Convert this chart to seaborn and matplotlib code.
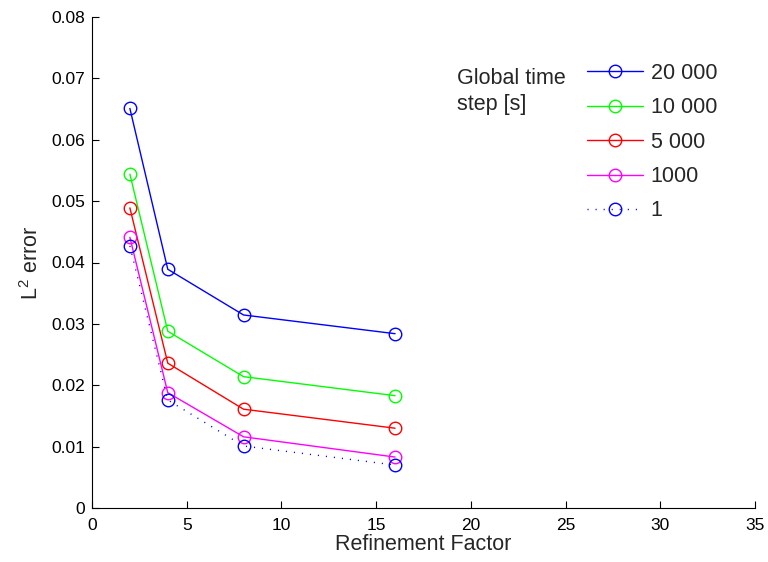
import matplotlib
matplotlib.use("Agg")
import matplotlib.pyplot as plt
import seaborn as sns
import pandas as pd

refinement = [2, 4, 8, 16]
labels = ["20 000", "10 000", "5 000", "1000", "1"]
err_20000 = [0.0651, 0.0389, 0.03145, 0.0284]
err_10000 = [0.0544, 0.0288, 0.0214, 0.0183]
err_5000 = [0.0489, 0.0236, 0.0161, 0.0130]
err_1000 = [0.0441, 0.0188, 0.0116, 0.0083]
err_1 = [0.0427, 0.0176, 0.0101, 0.0070]
series = [err_20000, err_10000, err_5000, err_1000, err_1]
colors = ["#0000ff", "#00ff00", "#ff0000", "#ff00ff", "#0000ff"]
styles = ["-", "-", "-", "-", (0, (0.8, 5))]

sns.set_style("white")
plt.rcParams["font.family"] = ["Liberation Sans", "DejaVu Sans"]
plt.rcParams["mathtext.default"] = "regular"

fig = plt.figure(figsize=(7.68, 5.62), dpi=100)
ax = fig.add_axes([92 / 768, 54 / 562, 663 / 768, 491 / 562])

for lab, vals, c, ls in zip(labels, series, colors, styles):
    df = pd.DataFrame({"factor": refinement, "error": vals})
    sns.lineplot(data=df, x="factor", y="error", ax=ax, color=c, linestyle=ls,
                 linewidth=1.0, marker="o", markersize=9, markerfacecolor="none",
                 markeredgecolor=c, markeredgewidth=1.0, label=lab, errorbar=None)

ax.set_xlim(0, 35)
ax.set_ylim(0, 0.08)
ax.set_xticks(range(0, 36, 5))
yt = [i / 100 for i in range(9)]
ax.set_yticks(yt)
ax.set_yticklabels(["0"] + [f"{v:.2f}" for v in yt[1:]])
ax.tick_params(direction="in", length=5, width=0.8, labelsize=12.5, colors="black",
               left=True, bottom=True)
ax.tick_params(axis="y", pad=5)
ax.tick_params(axis="x", pad=7)
for s in ["top", "right"]:
    ax.spines[s].set_visible(False)
for s in ["left", "bottom"]:
    ax.spines[s].set_color("black")
    ax.spines[s].set_linewidth(0.8)

ax.set_xlabel("Refinement Factor", fontsize=15.5, labelpad=1)
ax.set_ylabel("L$^2$ error", fontsize=15.5, labelpad=6)

leg = ax.legend(loc="upper left", bbox_to_anchor=(587 / 768, 1 - 63 / 562),
                bbox_transform=fig.transFigure, frameon=False, fontsize=15.5,
                handlelength=2.6, handletextpad=0.35, labelspacing=0.62, borderpad=0,
                borderaxespad=0)
fig.text(457 / 768, 1 - 68 / 562, "Global time\nstep [s]", fontsize=15.5,
         va="top", ha="left", linespacing=1.3)

fig.savefig("out.png", dpi=100)
